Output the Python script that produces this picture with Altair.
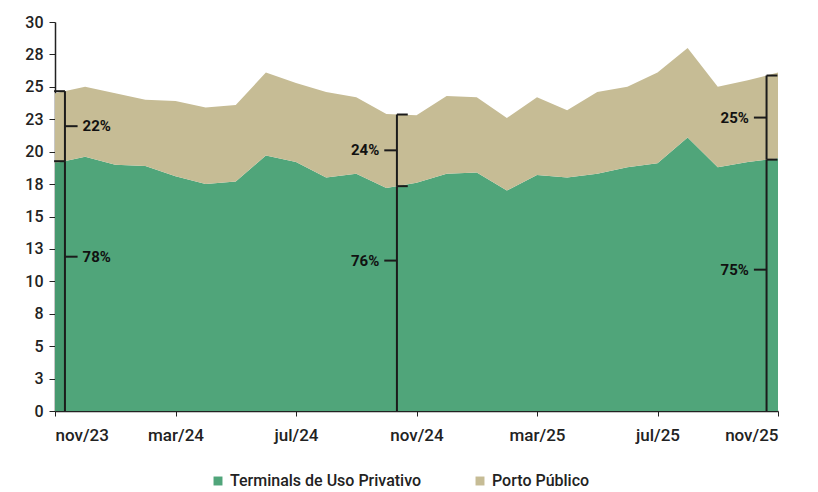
import altair as alt
import pandas as pd
import numpy as np

# ---- data ----
months = ["nov/23", "dez/23", "jan/24", "fev/24", "mar/24", "abr/24", "mai/24",
          "jun/24", "jul/24", "ago/24", "set/24", "out/24", "nov/24", "dez/24",
          "jan/25", "fev/25", "mar/25", "abr/25", "mai/25", "jun/25", "jul/25",
          "ago/25", "set/25", "out/25", "nov/25"]
tup = [19.1, 19.6, 19.0, 18.9, 18.1, 17.5, 17.7, 19.7, 19.2, 18.0, 18.3, 17.2,
       17.6, 18.3, 18.4, 17.0, 18.2, 18.0, 18.3, 18.8, 19.1, 21.1, 18.8, 19.2, 19.5]
porto = [5.4, 5.4, 5.5, 5.1, 5.8, 5.9, 5.9, 6.4, 6.1, 6.6, 5.9, 5.7,
         5.2, 6.0, 5.8, 5.6, 6.0, 5.2, 6.3, 6.2, 7.0, 6.9, 6.2, 6.3, 6.6]
series_names = ["Terminals de Uso Privativo", "Porto Público"]
series_colors = ["#50a57a", "#c6bc95"]
x_tick_labels = ["nov/23", "mar/24", "jul/24", "nov/24", "mar/25", "jul/25", "nov/25"]
y_tick_labels = ["0", "3", "5", "8", "10", "13", "15", "18", "20", "23", "25", "28", "30"]
porto_share = ["22%", "24%", "25%"]
tup_share = ["78%", "76%", "75%"]

FONT = "Roboto, sans-serif"

# ---- tables ----
rows = []
for i, m in enumerate(months):
    rows.append({"i": i, "mes": m, "serie": series_names[0], "ord": 0, "v": tup[i]})
    rows.append({"i": i, "mes": m, "serie": series_names[1], "ord": 1, "v": porto[i]})
df = pd.DataFrame(rows)

idx = np.arange(len(months))
total = np.array(tup) + np.array(porto)

# bracket annotation layout (positions in month-index units)
br_x = [0.33, 11.35, 23.62]
cap_dir = [-1, 1, 1]
tick_dir = [1, -1, -1]
tup_label_y = [11.9, 11.6, 10.9]
cap_len = 0.36
tick_len = 0.42

segs = []
labels = []
for k, bx in enumerate(br_x):
    g = float(np.interp(bx, idx, tup))
    t = float(np.interp(bx, idx, total))
    segs.append({"x": bx, "x2": bx, "y": t, "y2": g})
    segs.append({"x": bx, "x2": bx, "y": g, "y2": 0})
    for yy in (t, g):
        segs.append({"x": bx, "x2": bx + cap_dir[k] * cap_len, "y": yy, "y2": yy})
    pm = (t + g) / 2
    for yy in (pm, tup_label_y[k]):
        segs.append({"x": bx, "x2": bx + tick_dir[k] * tick_len, "y": yy, "y2": yy})
    side = "left" if tick_dir[k] > 0 else "right"
    labels.append({"x": bx + tick_dir[k] * tick_len, "y": pm, "t": porto_share[k], "side": side})
    labels.append({"x": bx + tick_dir[k] * tick_len, "y": tup_label_y[k], "t": tup_share[k], "side": side})
seg_df = pd.DataFrame(segs)
lab_df = pd.DataFrame(labels)

# slightly darker strip inside the first bracket (as in the source)
g0 = float(np.interp(br_x[0], idx, tup))
strip_df = pd.DataFrame([{"x": 0.0, "x2": br_x[0], "y": 0.0, "y2": g0}])

xscale = alt.Scale(domain=[0, len(months) - 1], nice=False, zero=False)
yscale = alt.Scale(domain=[0, 30], nice=False)

x_label_expr = "[" + ",".join("'%s'" % s for s in x_tick_labels) + "][round(datum.value/4)]"
y_label_expr = "[" + ",".join("'%s'" % s for s in y_tick_labels) + "][round(datum.value/2.5)]"

x_axis = alt.Axis(values=list(range(0, 25, 4)), labelExpr=x_label_expr,
                  grid=False, domainColor="#222", domainWidth=1.5,
                  tickColor="#222", tickSize=5, labelFont=FONT,
                  labelFontSize=17, labelColor="#222", labelPadding=11,
                  labelOverlap=False, labelFontWeight=500, title=None)
y_axis = alt.Axis(values=[2.5 * j for j in range(13)], labelExpr=y_label_expr,
                  grid=False, domainColor="#222", domainWidth=1.5,
                  tickColor="#222", tickSize=6, labelFont=FONT,
                  labelFontSize=16, labelColor="#222", labelPadding=6,
                  labelOverlap=False, labelSeparation=0,
                  labelFontWeight=500, title=None)

area = alt.Chart(df).mark_area(interpolate="linear", opacity=1).encode(
    x=alt.X("i:Q", scale=xscale, axis=x_axis),
    y=alt.Y("v:Q", stack="zero", scale=yscale, axis=y_axis),
    color=alt.Color("serie:N",
                    scale=alt.Scale(domain=series_names, range=series_colors),
                    legend=alt.Legend(title=None, orient="none", direction="horizontal",
                                      legendX=155, legendY=451, symbolType="square",
                                      symbolSize=80, symbolStrokeWidth=0,
                                      labelFont=FONT, labelFontSize=16, labelLimit=0,
                                      labelColor="#222", columnPadding=50,
                                      labelFontWeight=500)),
    order=alt.Order("ord:Q"),
)

strip = alt.Chart(strip_df).mark_rect(color="#3f8f66", opacity=0.55).encode(
    x=alt.X("x:Q", scale=xscale, axis=x_axis), x2="x2:Q",
    y=alt.Y("y:Q", scale=yscale, axis=y_axis), y2="y2:Q",
)

rules = alt.Chart(seg_df).mark_rule(color="#1b1b1b", strokeWidth=2).encode(
    x=alt.X("x:Q", scale=xscale, axis=x_axis), x2="x2:Q",
    y=alt.Y("y:Q", scale=yscale, axis=y_axis), y2="y2:Q",
)

txt_left = alt.Chart(lab_df[lab_df.side == "left"]).mark_text(
    align="left", baseline="middle", dx=5, font=FONT, fontSize=15,
    fontWeight="bold", color="#111").encode(
    x=alt.X("x:Q", scale=xscale, axis=x_axis), y=alt.Y("y:Q", scale=yscale, axis=y_axis),
    text="t:N")

txt_right = alt.Chart(lab_df[lab_df.side == "right"]).mark_text(
    align="right", baseline="middle", dx=-5, font=FONT, fontSize=15,
    fontWeight="bold", color="#111").encode(
    x=alt.X("x:Q", scale=xscale, axis=x_axis), y=alt.Y("y:Q", scale=yscale, axis=y_axis),
    text="t:N")

chart = alt.layer(area, strip, rules, txt_left, txt_right).properties(
    width=723, height=389,
    autosize="none",
    background="white",
    padding={"left": 47, "top": 14, "right": 30, "bottom": 80},
).configure_view(stroke=None).configure_axis(labelOverlap=False)

chart.save("out.html", embed_options={"renderer": "svg", "actions": False})
